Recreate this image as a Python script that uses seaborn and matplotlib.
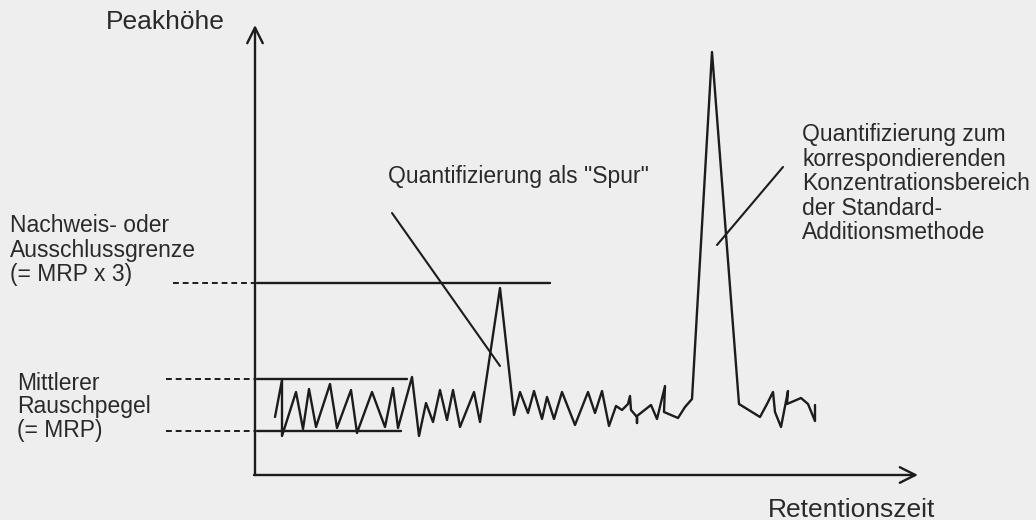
import matplotlib
matplotlib.use("Agg")
import matplotlib.pyplot as plt
import seaborn as sns
import pandas as pd

# ---- data (retention time units, peak height units above baseline) ----
ret_time = [275, 282, 282, 296, 303, 309, 316, 330, 337, 351, 357, 372, 385, 393, 398,
            412, 419, 426, 433, 440, 447, 453, 460, 474, 480, 500, 514, 520, 528, 534,
            542, 547, 554, 562, 575, 588, 595, 602, 609, 616, 622, 628, 630, 631, 637,
            637, 637, 651, 657, 665, 664, 678, 685, 692, 712, 739, 739, 760, 767, 773,
            775, 781, 788, 787, 801, 808, 815, 815]
signal_px = [417, 380, 436, 392, 429, 389, 427, 384, 428, 390, 433, 392, 427, 388, 428,
             377, 436, 403, 422, 390, 420, 390, 427, 392, 422, 288, 415, 392, 413, 391,
             419, 397, 419, 392, 425, 392, 413, 391, 426, 406, 410, 404, 396, 410, 417,
             423, 416, 405, 419, 386, 412, 418, 407, 399, 52, 404, 404, 417, 404, 392,
             412, 427, 391, 404, 398, 404, 421, 405]
BASE = 475
peak_height = [BASE - v for v in signal_px]

# reference levels (height) and their extents
mrp_upper = BASE - 379
mrp_lower = BASE - 431
limit_level = BASE - 283

sns.set_style("white")
plt.rcParams['font.family'] = ['Liberation Sans', 'DejaVu Sans']

bg = '#eeeeee'
ink = '#1c1c1c'
txt = '#2a2a2a'

fig = plt.figure(figsize=(10.36, 5.2), dpi=100, facecolor=bg)
ax = fig.add_axes([0, 0, 1, 1])
ax.set_facecolor(bg)
ax.set_xlim(0, 1036)
ax.set_ylim(-45, 475)
ax.axis('off')

df = pd.DataFrame({'t': ret_time, 'h': peak_height})
sns.lineplot(data=df, x='t', y='h', sort=False, estimator=None, color=ink,
             linewidth=1.7, ax=ax)

# level lines
ax.plot([257, 407], [mrp_upper, mrp_upper], color=ink, lw=1.7)
ax.plot([257, 401], [mrp_lower, mrp_lower], color=ink, lw=1.7)
ax.plot([257, 550], [limit_level, limit_level], color=ink, lw=1.7)

# dashed leaders
ax.plot([173, 254], [limit_level, limit_level], color=ink, lw=1.4, ls=(0, (3, 2)))
ax.plot([166, 254], [mrp_upper, mrp_upper], color=ink, lw=1.4, ls=(0, (3, 2)))
ax.plot([166, 254], [mrp_lower, mrp_lower], color=ink, lw=1.4, ls=(0, (3, 2)))

# annotation pointer lines
ax.plot([392, 500], [BASE - 213, BASE - 366], color=ink, lw=1.5)
ax.plot([783, 717], [BASE - 167, BASE - 245], color=ink, lw=1.5)

# axes arrows
arrow = dict(arrowstyle='->', color=ink, lw=1.7, mutation_scale=28, shrinkA=0, shrinkB=0)
ax.annotate('', xy=(255, BASE - 25), xytext=(255, 0), arrowprops=arrow)
ax.annotate('', xy=(918, 0), xytext=(254, 0), arrowprops=arrow)

fs = 16.5
fs_axis = 19
ax.text(106, BASE - 22, 'Peakhöhe', fontsize=fs_axis, color=txt, va='center', ha='left')
ax.text(768, BASE - 510, 'Retentionszeit', fontsize=fs_axis, color=txt, va='center', ha='left')
ax.text(388, BASE - 177, 'Quantifizierung als "Spur"', fontsize=fs, color=txt,
        va='center', ha='left')

right_lines = ['Quantifizierung zum', 'korrespondierenden', 'Konzentrationsbereich',
               'der Standard-', 'Additionsmethode']
for i, s in enumerate(right_lines):
    ax.text(802, BASE - (135 + 24.4 * i), s, fontsize=fs, color=txt, va='center', ha='left')

left_top = ['Nachweis- oder', 'Ausschlussgrenze', '(= MRP x 3)']
for i, s in enumerate(left_top):
    ax.text(10, BASE - (225 + 25 * i), s, fontsize=fs, color=txt, va='center', ha='left')

left_bot = ['Mittlerer', 'Rauschpegel', '(= MRP)']
for i, s in enumerate(left_bot):
    ax.text(17, BASE - (383 + 24 * i), s, fontsize=fs, color=txt, va='center', ha='left')

fig.savefig('out.png', dpi=100, facecolor=bg)
